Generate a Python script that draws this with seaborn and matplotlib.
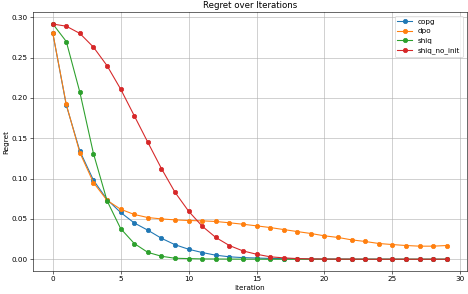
import numpy as np
import pandas as pd
import matplotlib
matplotlib.use("Agg")
import matplotlib.pyplot as plt
import seaborn as sns

iterations = list(range(30))
copg = [0.281, 0.191, 0.134, 0.098, 0.074, 0.058, 0.045, 0.036, 0.026, 0.018,
        0.0124, 0.0083, 0.005, 0.003, 0.002, 0.0015, 0.001, 0.0007, 0.0005, 0.0003,
        0.0002, 0.0002, 0.0001, 0.0001, 0.0001, 0.0001, 0.0, 0.0, 0.0, 0.0]
dpo = [0.281, 0.192, 0.132, 0.095, 0.073, 0.062, 0.0555, 0.0517, 0.050, 0.0488,
       0.048, 0.0476, 0.0468, 0.0452, 0.0434, 0.0414, 0.0393, 0.0368, 0.0343, 0.0319,
       0.029, 0.027, 0.024, 0.022, 0.0195, 0.0182, 0.017, 0.0162, 0.0162, 0.017]
shiq = [0.292, 0.270, 0.207, 0.131, 0.0725, 0.038, 0.0195, 0.0085, 0.0037, 0.0012,
        0.0008, 0.0004, 0.0003, 0.0002, 0.0001, 0.0001, 0.0, 0.0, 0.0, 0.0,
        0.0, 0.0, 0.0, 0.0, 0.0, 0.0, 0.0, 0.0, 0.0, 0.0]
shiq_no_init = [0.2917, 0.289, 0.280, 0.263, 0.240, 0.211, 0.178, 0.145, 0.1125, 0.083,
                0.0596, 0.041, 0.027, 0.017, 0.0103, 0.0062, 0.003, 0.0017, 0.0008, 0.0004,
                0.0002, 0.0001, 0.0001, 0.0, 0.0, 0.0, 0.0, 0.0, 0.0, 0.0]
methods = ["copg", "dpo", "shiq", "shiq_no_init"]
series = [copg, dpo, shiq, shiq_no_init]

df = pd.DataFrame({
    "Iteration": iterations * len(methods),
    "Regret": [v for s in series for v in s],
    "method": [m for m in methods for _ in iterations],
})

dpi = 52
fig, ax = plt.subplots(figsize=(468 / dpi, 294 / dpi), dpi=dpi)
sns.lineplot(data=df, x="Iteration", y="Regret", hue="method", hue_order=methods,
             palette=sns.color_palette("tab10", 4), marker="o", markersize=6,
             markeredgecolor=None, markeredgewidth=None, linewidth=1.5, ax=ax)
ax.set_title("Regret over Iterations")
ax.set_xlabel("Iteration")
ax.set_ylabel("Regret")
ax.grid(True)
ax.legend(loc="upper right", title=None)
fig.subplots_adjust(left=33 / 468, right=466.5 / 468, top=1 - 12 / 294, bottom=1 - 271 / 294)
fig.savefig("out.png", dpi=dpi)
